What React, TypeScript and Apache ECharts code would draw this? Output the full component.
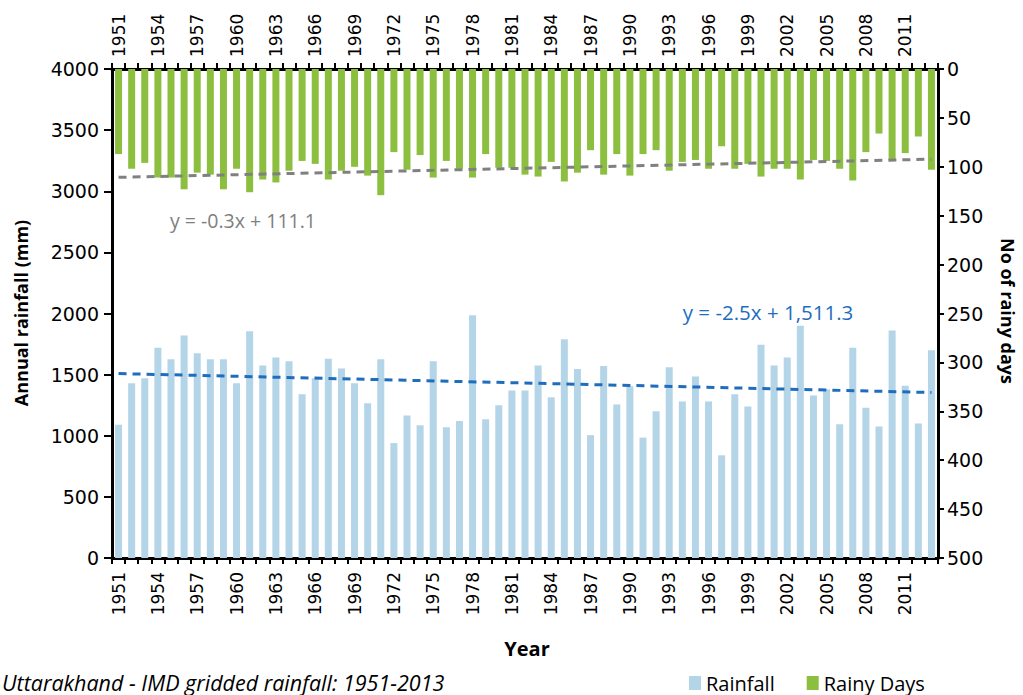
import React, { useEffect, useRef } from "react";
import * as echarts from "echarts";

// Years 1951–2013
const years: string[] = [];
for (let y = 1951; y <= 2013; y++) years.push(String(y));

// Annual rainfall (mm)
const rainfall = [
  1090, 1430, 1470, 1720, 1625, 1820, 1675, 1625, 1625, 1430,
  1855, 1575, 1640, 1610, 1340, 1470, 1630, 1550, 1430, 1265,
  1625, 940, 1165, 1085, 1610, 1070, 1120, 1985, 1135, 1250,
  1370, 1370, 1575, 1315, 1790, 1545, 1005, 1570, 1255, 1405,
  985, 1200, 1560, 1280, 1485, 1280, 840, 1340, 1240, 1745,
  1575, 1640, 1900, 1330, 1380, 1095, 1720, 1230, 1075, 1860,
  1410, 1100, 1700,
];

// Number of rainy days
const rainyDays = [
  87, 102, 96, 111, 111, 123, 106, 108, 123, 102,
  126, 113, 116, 104, 94, 97, 113, 104, 100, 109,
  129, 85, 103, 88, 111, 94, 102, 111, 87, 101,
  101, 108, 110, 95, 115, 106, 83, 108, 87, 109,
  87, 83, 104, 95, 93, 102, 79, 102, 97, 110,
  102, 102, 113, 93, 94, 102, 114, 85, 66, 93,
  86, 69, 103,
];

// Linear trend lines, x = 1 for 1951
const rainTrend = { slope: -2.5, intercept: 1511.3, label: "y = -2.5x + 1,511.3" };
const daysTrend = { slope: -0.3, intercept: 111.1, label: "y = -0.3x + 111.1" };

const rainfallTicks = { min: 0, max: 4000, interval: 500 };
const daysTicks = { min: 0, max: 500, interval: 50 };

const COLORS = {
  rainfall: "#b4d4e8",
  days: "#8cbf3f",
  rainTrend: "#1f6dbd",
  daysTrend: "#808080",
};

const trendEnds = (t: { slope: number; intercept: number }) => [
  [years[0], t.slope * 1 + t.intercept],
  [years[years.length - 1], t.slope * years.length + t.intercept],
];

const TICK_FONT = "DejaVu Sans";
const TEXT_FONT = "'Open Sans', 'Noto Sans', sans-serif";

export default function App() {
  const ref = useRef<HTMLDivElement>(null);

  useEffect(() => {
    if (!ref.current) return;
    const chart = echarts.init(ref.current, undefined, { renderer: "svg" });

    const catAxisBase = {
      type: "category" as const,
      data: years,
      boundaryGap: true,
      axisLine: { show: true, lineStyle: { color: "#000", width: 3 } },
      axisTick: { show: true, interval: 0, length: 6, lineStyle: { color: "#000", width: 2 } },
      axisLabel: {
        interval: 2,
        rotate: 90,
        color: "#000",
        fontFamily: TICK_FONT,
        fontSize: 17,
      },
      splitLine: { show: false },
    };

    const plain = (v: number) => String(v);

    chart.setOption({
      animation: false,
      backgroundColor: "#fff",
      grid: { left: 112, right: 85, top: 69, bottom: 137, containLabel: false },
      legend: {
        data: ["Rainfall", "Rainy Days"],
        left: 684,
        top: 668,
        itemWidth: 12,
        itemHeight: 14,
        itemGap: 32,
        icon: "rect",
        textStyle: { fontFamily: TEXT_FONT, fontSize: 20, color: "#000" },
      },
      xAxis: [
        { ...catAxisBase, position: "bottom", axisLabel: { ...catAxisBase.axisLabel, margin: 14 } },
        { ...catAxisBase, position: "top", axisLabel: { ...catAxisBase.axisLabel, margin: 12 } },
      ],
      yAxis: [
        {
          type: "value",
          position: "left",
          ...rainfallTicks,
          axisLine: { show: true, lineStyle: { color: "#000", width: 3 } },
          axisTick: { show: true, length: 8, lineStyle: { color: "#000", width: 2 } },
          axisLabel: { color: "#000", fontFamily: TICK_FONT, fontSize: 19, margin: 13, formatter: plain },
          splitLine: { show: false },
        },
        {
          type: "value",
          position: "right",
          inverse: true,
          ...daysTicks,
          axisLine: { show: true, lineStyle: { color: "#000", width: 3 } },
          axisTick: { show: true, length: 6, lineStyle: { color: "#000", width: 2 } },
          axisLabel: { color: "#000", fontFamily: TICK_FONT, fontSize: 19, margin: 9, formatter: plain },
          splitLine: { show: false },
        },
      ],
      series: [
        {
          name: "Rainfall",
          type: "bar",
          xAxisIndex: 0,
          yAxisIndex: 0,
          data: rainfall,
          barWidth: 7,
          barGap: "-100%",
          itemStyle: { color: COLORS.rainfall },
        },
        {
          name: "Rainy Days",
          type: "bar",
          xAxisIndex: 0,
          yAxisIndex: 1,
          data: rainyDays,
          barWidth: 7,
          barGap: "-100%",
          itemStyle: { color: COLORS.days },
        },
        {
          name: "Rainfall trend",
          type: "line",
          xAxisIndex: 0,
          yAxisIndex: 0,
          data: trendEnds(rainTrend),
          symbol: "none",
          z: 5,
          lineStyle: { color: COLORS.rainTrend, width: 3, type: [8, 6] },
        },
        {
          name: "Rainy days trend",
          type: "line",
          xAxisIndex: 0,
          yAxisIndex: 1,
          data: trendEnds(daysTrend),
          symbol: "none",
          z: 5,
          lineStyle: { color: COLORS.daysTrend, width: 3, type: [8, 6] },
        },
      ],
      graphic: [
        {
          type: "text",
          x: 21,
          y: 313,
          rotation: Math.PI / 2,
          style: {
            text: "Annual rainfall (mm)",
            fontFamily: TEXT_FONT,
            fontWeight: "bold",
            fontSize: 18,
            fill: "#000",
            align: "center",
            verticalAlign: "middle",
          },
        },
        {
          type: "text",
          x: 1008,
          y: 311,
          rotation: -Math.PI / 2,
          style: {
            text: "No of rainy days",
            fontFamily: TEXT_FONT,
            fontWeight: "bold",
            fontSize: 18,
            fill: "#000",
            align: "center",
            verticalAlign: "middle",
          },
        },
        {
          type: "text",
          x: 527,
          y: 648,
          style: {
            text: "Year",
            fontFamily: TEXT_FONT,
            fontWeight: "bold",
            fontSize: 20,
            fill: "#000",
            align: "center",
            verticalAlign: "middle",
          },
        },
        {
          type: "text",
          x: 2,
          y: 682,
          style: {
            text: "Uttarakhand - IMD gridded rainfall: 1951-2013",
            fontFamily: TEXT_FONT,
            fontStyle: "italic",
            fontSize: 21.5,
            fill: "#000",
            align: "left",
            verticalAlign: "middle",
          },
        },
        {
          type: "text",
          x: 243,
          y: 220,
          style: {
            text: daysTrend.label,
            fontFamily: TEXT_FONT,
            fontSize: 19.5,
            fill: COLORS.daysTrend,
            align: "center",
            verticalAlign: "middle",
          },
        },
        {
          type: "text",
          x: 768,
          y: 312,
          style: {
            text: rainTrend.label,
            fontFamily: TEXT_FONT,
            fontSize: 20.5,
            fill: COLORS.rainTrend,
            align: "center",
            verticalAlign: "middle",
          },
        },
      ],
    });

    return () => chart.dispose();
  }, []);

  return (
    <div
      ref={ref}
      style={{ position: "absolute", left: 0, top: 0, width: 1023, height: 695 }}
    />
  );
}
